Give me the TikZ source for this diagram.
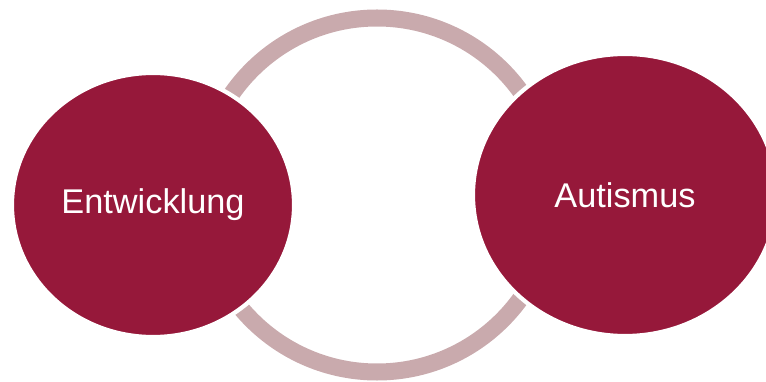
\documentclass[tikz,border=0pt]{standalone}
\usepackage{fontspec}
\setmainfont{Liberation Sans}
\usetikzlibrary{shapes.geometric, positioning}
\definecolor{wine}{RGB}{150,24,58}
\definecolor{rose}{RGB}{201,170,173}
\tikzstyle{ellNode} = [ellipse, fill=wine, draw=white, line width=3pt, inner sep=0pt, text=white, font=\fontsize{24.4}{29}\selectfont]
\tikzstyle{ring} = [draw=rose, line width=0.425cm]

\begin{document}
\begin{tikzpicture}[x=0.025cm, y=0.025cm]
    \useasboundingbox (0,0) rectangle (766,381);
    \coordinate (mid) at (377,186);
    \draw [ring] (mid) circle (177);
    
    \node (dev) [ellNode, minimum width=7.05cm, minimum height=6.6cm] at (153,176) {Entwicklung};
    \node (aut) [ellNode, minimum width=7.6cm, minimum height=7.05cm] at (625,186) {Autismus};
    
    \end{tikzpicture}
\end{document}
